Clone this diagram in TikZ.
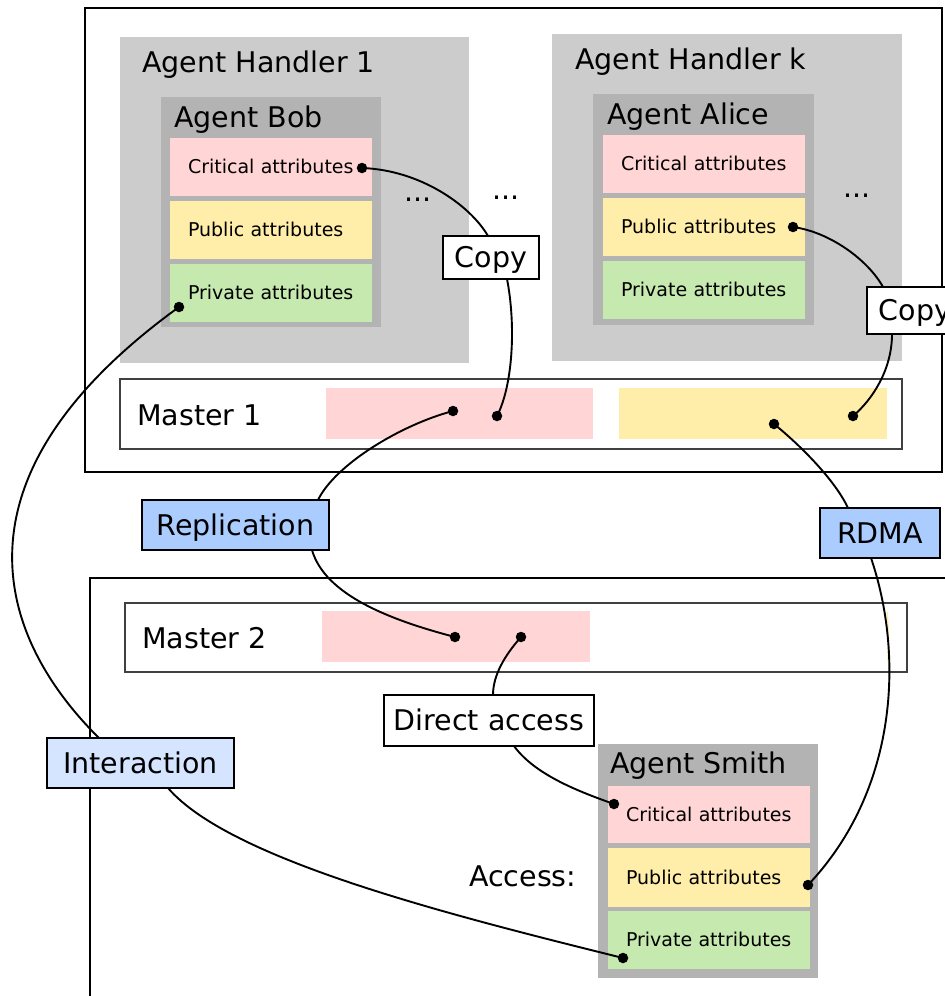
\documentclass[tikz,border=0pt]{standalone}
\usepackage{fontspec}
\setmainfont{DejaVu Sans}
\definecolor{critc}{HTML}{FFD5D5}
\definecolor{pubc}{HTML}{FFEEAA}
\definecolor{privc}{HTML}{C6E9AF}
\definecolor{handlerc}{HTML}{CCCCCC}
\definecolor{agentc}{HTML}{B3B3B3}
\definecolor{bluec}{HTML}{AACCFF}
\definecolor{lbluec}{HTML}{D5E5FF}
\begin{document}
\begin{tikzpicture}[x=1pt,y=-1pt,
  big/.style={font=\fontsize{28.5}{34}\selectfont},
  small/.style={font=\fontsize{19}{23}\selectfont},
  area/.style={inner sep=0pt,outer sep=0pt,anchor=north west},
  frame/.style={area,draw=black,line width=2.4pt},
  masterbox/.style={area,draw=black!75,line width=1.2pt,fill=white},
  attr/.style={area,small,inner xsep=18pt,inner ysep=0pt,text width=166pt,align=left,
    minimum height=58pt,text height=13.9pt,text depth=0pt},
  lbl/.style={area,big,draw=black,line width=2pt,text height=20.8pt,text depth=0pt},
  title/.style={big,anchor=base west,inner sep=0pt},
  dot/.style={circle,fill=black,inner sep=0pt,minimum size=10.5pt},
  link/.style={line width=1.9pt}]
\useasboundingbox (0,0) rectangle (945,996);

% ---------- upper site ----------
\node[frame,minimum width=857pt,minimum height=464pt] (siteA) at (85,8) {};

% agent handler 1 with agent Bob
\node[area,fill=handlerc,minimum width=349pt,minimum height=326pt] (h1) at (120,37) {};
\node[title] (h1t) at (142,72) {Agent Handler 1};
\node[area,fill=agentc,minimum width=220pt,minimum height=230pt] (bob) at (161,97) {};
\node[title] (bobt) at (174,127) {Agent Bob};
\node[attr,fill=critc] (bobC) at (170,138) {Critical attributes};
\node[attr,fill=pubc]  (bobP) at (170,201) {Public attributes};
\node[attr,fill=privc] (bobV) at (170,264) {Private attributes};
\node[big] (dotsA) at (418,200) {...};
\node[big] (dotsB) at (506,198) {...};

% agent handler k with agent Alice
\node[area,fill=handlerc,minimum width=350pt,minimum height=327pt] (hk) at (552,34) {};
\node[title] (hkt) at (575,69) {Agent Handler k};
\node[area,fill=agentc,minimum width=221pt,minimum height=231pt] (alice) at (593,94) {};
\node[title] (alicet) at (607,124) {Agent Alice};
\node[attr,fill=critc] (aliC) at (603,135) {Critical attributes};
\node[attr,fill=pubc]  (aliP) at (603,198) {Public attributes};
\node[attr,fill=privc] (aliV) at (603,261) {Private attributes};
\node[big] (dotsC) at (857,196) {...};

% master 1
\node[masterbox,minimum width=782pt,minimum height=70pt] (m1) at (120,379) {};
\node[title] (m1t) at (137,425) {Master 1};
\node[area,fill=critc,minimum width=267pt,minimum height=51pt] (m1C) at (326,388) {};
\node[area,fill=pubc,minimum width=268pt,minimum height=51pt] (m1P) at (619,388) {};

% ---------- lower site ----------
\node[frame,minimum width=1000pt,minimum height=500pt] (siteB) at (90,578) {};
\node[masterbox,minimum width=782pt,minimum height=69pt] (m2) at (125,603) {};
\node[title] (m2t) at (142,648) {Master 2};
\node[area,fill=critc,minimum width=268pt,minimum height=51pt] (m2C) at (322,611) {};
\draw[pubc,line width=1.4pt] (887,612) .. controls (888.5,630) .. (888,662);

% agent Smith
\node[area,fill=agentc,minimum width=220pt,minimum height=234pt] (smith) at (598,744) {};
\node[title] (smitht) at (610,773) {Agent Smith};
\node[attr,fill=critc,minimum height=57pt] (smiC) at (608,786) {Critical attributes};
\node[attr,fill=pubc,minimum height=59pt]  (smiP) at (608,848) {Public attributes};
\node[attr,fill=privc,minimum height=58pt] (smiV) at (608,911) {Private attributes};
\node[title] (acc) at (469,886) {Access:};

% ---------- labels of the links ----------
\node[lbl,fill=white,minimum width=96pt,minimum height=43pt] (copyA) at (443,236) {Copy};
\node[lbl,fill=white,minimum width=96pt,minimum height=47pt] (copyB) at (867,287) {Copy};
\node[lbl,fill=bluec,minimum width=187pt,minimum height=50pt] (repl) at (142,500) {Replication};
\node[lbl,fill=bluec,minimum width=120pt,minimum height=50pt] (rdma) at (820,508) {RDMA};
\node[lbl,fill=lbluec,minimum width=187pt,minimum height=50pt] (inter) at (47,738) {Interaction};
\node[lbl,fill=white,minimum width=210pt,minimum height=51pt] (direct) at (384,695) {Direct access};

% ---------- end points ----------
\node[dot] (pBobC) at (362,168) {};
\node[dot] (pBobV) at (179,307) {};
\node[dot] (pAliP) at (793,227) {};
\node[dot] (pM1a) at (453,411) {};
\node[dot] (pM1b) at (497,416) {};
\node[dot] (pM1c) at (774,424) {};
\node[dot] (pM1d) at (853,416) {};
\node[dot] (pM2a) at (455,637) {};
\node[dot] (pM2b) at (521,637) {};
\node[dot] (pSmiC) at (614,804) {};
\node[dot] (pSmiP) at (808,885) {};
\node[dot] (pSmiV) at (623,958) {};

% ---------- links ----------
\draw[link] (pBobC.center) .. controls (420,170) and (470,205) .. ([xshift=-3pt]copyA.north);
\draw[link] ([xshift=16pt]copyA.south) .. controls (516,325) and (513,385) .. (pM1b.center);
\draw[link] (pAliP.center) .. controls (830,232) and (868,260) .. ([xshift=-32pt]copyB.north);
\draw[link] ([xshift=-23pt]copyB.south) .. controls (892,370) and (872,400) .. (pM1d.center);
\draw[link] (pM1a.center) .. controls (400,425) and (335,465) .. ([xshift=82.5pt]repl.north);
\draw[link] ([xshift=76.5pt]repl.south) .. controls (325,595) and (390,620) .. (pM2a.center);
\draw[link] (pM1c.center) .. controls (800,445) and (835,480) .. ([xshift=-32pt]rdma.north);
\draw[link] ([xshift=-9pt]rdma.south) .. controls (904,655) and (898,790) .. (pSmiP.center);
\draw[link] (pM2b.center) .. controls (505,655) and (493,675) .. ([xshift=4pt]direct.north);
\draw[link] ([xshift=25pt]direct.south) .. controls (535,775) and (580,792) .. (pSmiC.center);
\draw[link] (pBobV.center) .. controls (-60,480) and (0,640) .. ([xshift=-41.5pt]inter.north);
\draw[link] ([xshift=27.5pt]inter.south) .. controls (230,860) and (450,915) .. (pSmiV.center);
\end{tikzpicture}
\end{document}
